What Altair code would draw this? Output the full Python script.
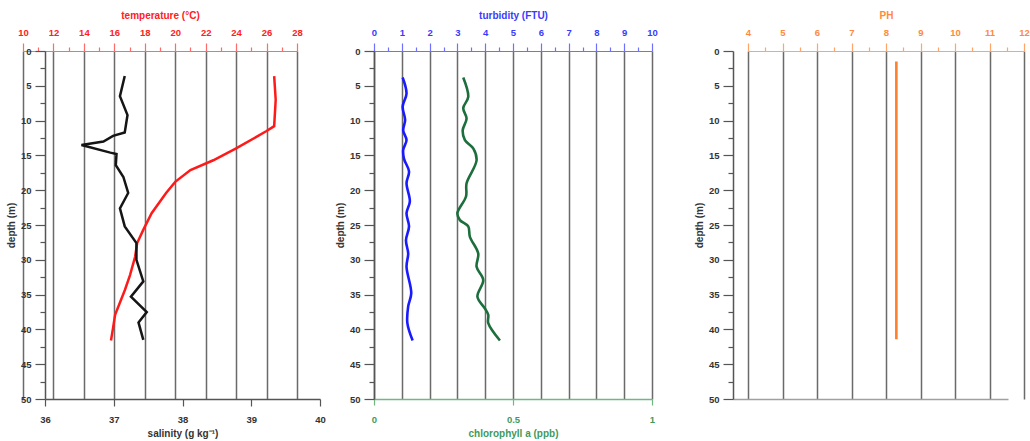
import altair as alt
import pandas as pd
import numpy as np

# ---------------- data ----------------
temp_depth = [3.6, 7.0, 10.8, 11.5, 14.0, 15.7, 17.1, 18.8, 20.4, 23.3, 25.7, 27.6, 29.6, 32.2, 34.3, 37.9, 39.6, 41.6]
temp_val = [26.5, 26.6, 26.5, 26.0, 24.0, 22.5, 21.0, 20.0, 19.4, 18.45, 17.9, 17.5, 17.36, 17.03, 16.7, 16.05, 15.93, 15.78]

sal_depth = [3.6, 6.5, 9.2, 11.7, 12.2, 13.0, 13.5, 14.6, 14.8, 16.4, 18.1, 20.4, 22.6, 25.2, 27.6, 30.0, 33.1, 35.3, 37.5, 39.0, 41.5]
sal_val = [37.16, 37.09, 37.20, 37.16, 36.99, 36.85, 36.53, 36.95, 37.04, 37.03, 37.14, 37.21, 37.09, 37.16, 37.33, 37.33, 37.43, 37.25, 37.48, 37.36, 37.43]

turb_depth = [3.8, 6.1, 8.0, 9.9, 11.4, 12.8, 14.2, 15.5, 17.3, 19.0, 21.6, 23.3, 25.2, 27.2, 29.1, 31.0, 34.8, 36.7, 39.1, 41.6]
turb_val = [1.03, 1.17, 1.03, 1.12, 1.05, 1.17, 1.05, 1.08, 1.26, 1.17, 1.29, 1.17, 1.26, 1.15, 1.23, 1.17, 1.34, 1.23, 1.20, 1.39]

chl_depth = [3.8, 6.6, 8.2, 9.7, 11.4, 12.8, 14.0, 15.7, 19.0, 20.9, 23.3, 24.3, 25.2, 26.7, 29.1, 31.0, 32.9, 35.3, 37.0, 37.9, 39.1, 41.6]
chl_val = [0.321, 0.339, 0.321, 0.333, 0.319, 0.327, 0.357, 0.369, 0.333, 0.331, 0.300, 0.309, 0.339, 0.345, 0.375, 0.369, 0.393, 0.372, 0.399, 0.411, 0.411, 0.453]

ph_depth = [1.5, 5, 10, 15, 20, 25, 30, 35, 41.4]
ph_val = [8.3, 8.3, 8.3, 8.3, 8.3, 8.3, 8.3, 8.3, 8.3]

depth_ticks = [float(v) for v in np.arange(0, 50.01, 2.5)]
temp_ticks = list(range(10, 29))
sal_ticks = [float(v) for v in np.arange(36, 40.01, 0.5)]
turb_ticks = [float(v) for v in np.arange(0, 10.01, 0.5)]
chl_ticks = [0, 0.5, 1]
ph_ticks = [float(v) for v in np.arange(4, 12.01, 0.5)]

df_temp = pd.DataFrame({"depth": temp_depth, "temp": temp_val})
df_sal = pd.DataFrame({"depth": sal_depth, "sal": sal_val})
df_turb = pd.DataFrame({"depth": turb_depth, "turb": turb_val})
df_chl = pd.DataFrame({"depth": chl_depth, "chl": chl_val})
df_ph = pd.DataFrame({"depth": ph_depth, "ph": ph_val})

FONT = "Liberation Sans"
H = 348
W1, W2, W3 = 275, 305, 275
GRID = "#6a6a6a"
AX = "#555555"
LAB = "#333333"


def cond(test, a, b):
    return {"condition": {"test": test, "value": a}, "value": b}


def yscale():
    return alt.Scale(domain=[0, 50], reverse=True, nice=False, zero=False)


def yaxis():
    return alt.Axis(
        orient="left", values=depth_ticks, format="d",
        labelExpr="datum.value % 5 === 0 ? datum.label : ''",
        tickSize=cond("datum.value % 5 === 0", 10, 5),
        tickColor=AX, tickWidth=1.2, domainColor=AX, domainWidth=1.5,
        labelColor=LAB, labelFont=FONT, labelFontWeight="bold", labelFontSize=9.5,
        labelPadding=4, labelFlush=False, title="depth (m)", titleFont=FONT,
        titleFontWeight="bold", titleFontSize=10, titleColor=LAB, titlePadding=4, grid=False,
    )


def top_axis(title, ticks, color, domcolor, major_test, grid_test):
    return alt.Axis(
        orient="top", values=ticks, format="~g",
        labelExpr=f"{major_test} ? datum.label : ''",
        tickSize=cond(major_test, 8, 4), tickColor=domcolor, tickWidth=1.2,
        domainColor=domcolor, domainWidth=1.2,
        labelColor=color, labelFont=FONT, labelFontWeight="bold", labelFontSize=9.5,
        labelPadding=6, labelFlush=False, title=title, titleFont=FONT, titleFontWeight="bold",
        titleFontSize=10, titleColor=color, titlePadding=7,
        grid=True, gridColor=GRID, gridWidth=1.5,
        gridOpacity=cond(grid_test, 1, 0),
    )


Y = alt.Y("depth:Q", scale=yscale(), axis=yaxis())

# ---------------- panel 1: temperature / salinity ----------------
p1_temp = alt.Chart(df_temp).mark_line(color="#ff1a1a", strokeWidth=2.5).encode(
    x=alt.X("temp:Q",
            scale=alt.Scale(domain=[10, 28], range=[-22, 252], nice=False, zero=False),
            axis=top_axis("temperature (°C)", temp_ticks, "#ff2020", "#ff6a6a",
                          "datum.value % 2 === 0", "datum.value % 2 === 0")),
    y=Y,
    order=alt.Order("depth:Q"),
)

p1_sal = alt.Chart(df_sal).mark_line(color="#151515", strokeWidth=2.5).encode(
    x=alt.X("sal:Q",
            scale=alt.Scale(domain=[36, 40], nice=False, zero=False),
            axis=alt.Axis(orient="bottom", values=sal_ticks, format="d",
                          labelExpr="datum.value % 1 === 0 ? datum.label : ''",
                          tickSize=cond("datum.value % 1 === 0", 7, 4),
                          tickColor=AX, tickWidth=1.2, domainColor=AX, domainWidth=1.5,
                          labelColor=LAB, labelFont=FONT, labelFontWeight="bold",
                          labelFontSize=9.5, labelPadding=8, labelFlush=False,
                          title="salinity (g kg⁻¹)", titleFont=FONT, titleFontWeight="bold",
                          titleFontSize=10, titleColor=LAB, titlePadding=5, grid=False)),
    y=Y,
    order=alt.Order("depth:Q"),
)

panel1 = alt.layer(p1_temp, p1_sal).resolve_scale(x="independent").properties(width=W1, height=H)

# ---------------- panel 2: turbidity / chlorophyll ----------------
p2_turb = alt.Chart(df_turb).mark_line(color="#1a1aff", strokeWidth=2.6, interpolate="catmull-rom").encode(
    x=alt.X("turb:Q",
            scale=alt.Scale(domain=[0, 10], range=[0, 278], nice=False, zero=False),
            axis=top_axis("turbidity (FTU)", turb_ticks, "#3a3aff", "#7070ff",
                          "datum.value % 1 === 0", "datum.value % 1 === 0")),
    y=Y,
    order=alt.Order("depth:Q"),
)

GREEN = "#3f9a5c"
p2_chl = alt.Chart(df_chl).mark_line(color="#1d6e3d", strokeWidth=2.6, interpolate="catmull-rom").encode(
    x=alt.X("chl:Q",
            scale=alt.Scale(domain=[0, 1], range=[0, 278], nice=False, zero=False),
            axis=alt.Axis(orient="bottom", values=chl_ticks, format="~g",
                          tickSize=6, tickColor="#6fb783", tickWidth=1.2,
                          domainColor="#6fb783", domainWidth=1.4,
                          labelColor=GREEN, labelFont=FONT, labelFontWeight="bold",
                          labelFontSize=9.5, labelPadding=9, labelFlush=False,
                          title="chlorophyll a (ppb)", titleFont=FONT, titleFontWeight="bold",
                          titleFontSize=10, titleColor=GREEN, titlePadding=5, grid=False)),
    y=Y,
    order=alt.Order("depth:Q"),
)

panel2 = alt.layer(p2_turb, p2_chl).resolve_scale(x="independent").properties(width=W2, height=H)

# ---------------- panel 3: pH ----------------
ORANGE = "#ff8a3d"
p3_ph = alt.Chart(df_ph).mark_line(color="#ff7f2a", strokeWidth=2.6).encode(
    x=alt.X("ph:Q",
            scale=alt.Scale(domain=[4, 12], range=[15, 291], nice=False, zero=False),
            axis=top_axis("PH", ph_ticks, ORANGE, "#ffa56a",
                          "datum.value % 1 === 0", "datum.value % 1 === 0")),
    y=Y,
    order=alt.Order("depth:Q"),
)

p3_base = alt.Chart(df_ph).mark_point(opacity=0, clip=True, size=1).encode(
    x=alt.X("ph:Q", scale=alt.Scale(domain=[4, 12], nice=False, zero=False),
            axis=alt.Axis(orient="bottom", labels=False, ticks=False, title=None, grid=False,
                          domainColor="#a0a0a0", domainWidth=1.5)),
    y=Y,
)

panel3 = alt.layer(p3_ph, p3_base).resolve_scale(x="independent").properties(width=W3, height=H)

chart = alt.hconcat(panel1, panel2, panel3, spacing=54, bounds="flush").properties(
    padding={"left": 6, "top": 10, "right": 0, "bottom": 0}
).configure_view(strokeWidth=0)

chart.save("out.html", embed_options={"renderer": "svg", "actions": False})
